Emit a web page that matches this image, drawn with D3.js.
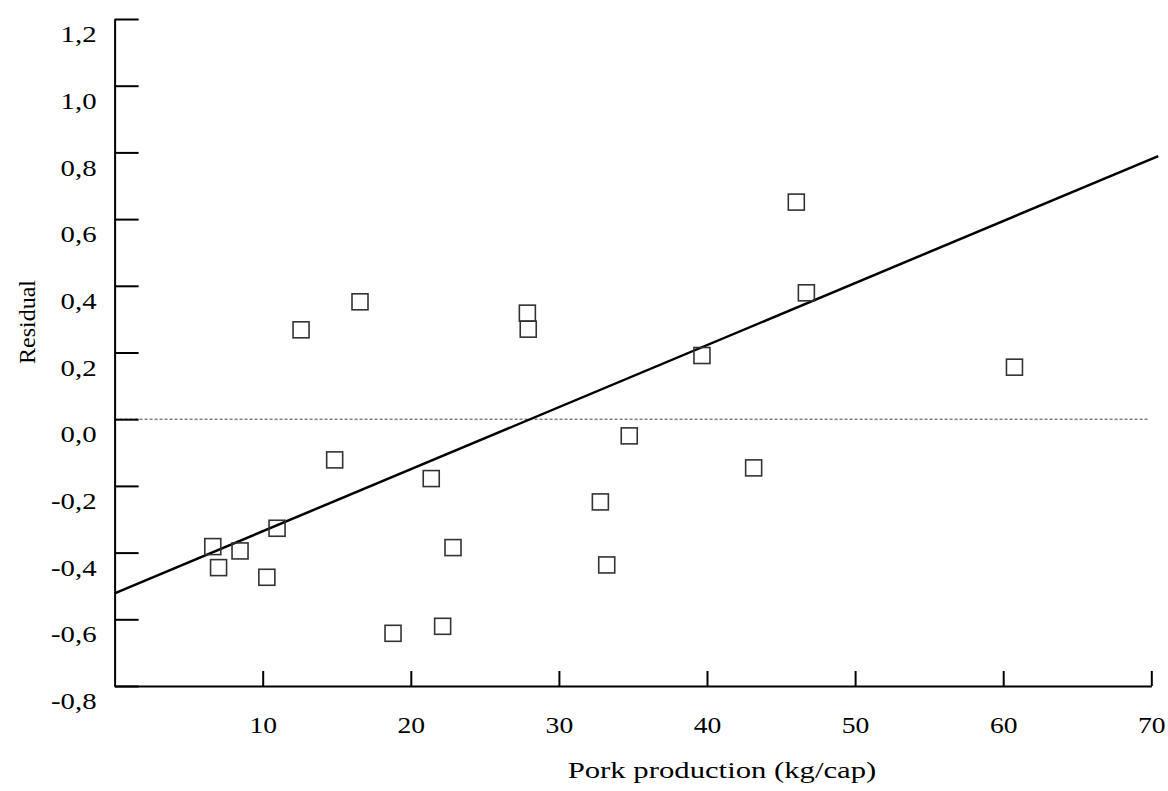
<!DOCTYPE html>
<html>
<head>
<meta charset="utf-8">
<script src="https://cdn.jsdelivr.net/npm/d3@7"></script>
<style>
  html, body { margin: 0; padding: 0; background: #fff; }
  svg { display: block; }
  text { font-family: "Liberation Serif", "Times New Roman", serif; fill: #000; }
</style>
</head>
<body>
<svg id="chart" width="1168" height="791"></svg>
<script>
// ---- data ----
const porkProduction = [6.63, 7.02, 8.47, 10.28, 10.97, 12.59, 14.86, 16.57, 18.80, 21.38, 22.15,
                        22.85, 27.87, 27.93, 32.80, 33.23, 34.75, 39.66, 43.15, 46.03, 46.71, 60.76];
const residuals     = [-0.382, -0.445, -0.395, -0.474, -0.327, 0.268, -0.122, 0.352, -0.642, -0.178, -0.621,
                       -0.385, 0.318, 0.270, -0.248, -0.437, -0.050, 0.191, -0.146, 0.651, 0.379, 0.156];
const fitLineX = [0, 70.47];
const fitLineY = [-0.522, 0.789];
const zeroLineX = [0, 69.8];
const xTicks = [10, 20, 30, 40, 50, 60, 70];
const yTicks = [-0.8, -0.6, -0.4, -0.2, 0.0, 0.2, 0.4, 0.6, 0.8, 1.0, 1.2];
const xTitle = "Pork production (kg/cap)";
const yTitle = "Residual";

const svg = d3.select("#chart");
const x = d3.scaleLinear().domain([0, 70]).range([114.6, 1151.3]);
const y = d3.scaleLinear().domain([-0.8, 1.2]).range([686, 19]);
const fmt = v => d3.format(".1f")(v).replace(".", ",").replace("\u2212", "-");

// zero reference line
svg.append("line")
  .attr("x1", x(zeroLineX[0])).attr("x2", x(zeroLineX[1]))
  .attr("y1", y(0)).attr("y2", y(0))
  .attr("stroke", "#444").attr("stroke-width", 1).attr("stroke-dasharray", "3,2");

// axes
const yAxis = svg.append("g").attr("transform", `translate(${x(0)},0)`)
  .call(d3.axisLeft(y).tickValues(yTicks).tickFormat(fmt).tickSizeInner(-24).tickSizeOuter(0).tickPadding(18));
const xAxis = svg.append("g").attr("transform", `translate(0,${y(-0.8)})`)
  .call(d3.axisBottom(x).tickValues(xTicks).tickFormat(d3.format("d")).tickSizeInner(-15).tickSizeOuter(0).tickPadding(30));

[yAxis, xAxis].forEach(g => {
  g.attr("font-family", null).attr("font-size", null);
  g.selectAll("path.domain").attr("stroke", "#000").attr("stroke-width", 2);
  g.selectAll(".tick line").attr("stroke", "#000").attr("stroke-width", 2);
  g.selectAll(".tick text").style("font-family", "'Liberation Serif', serif").style("font-size", "24px").attr("fill", "#000");
});
yAxis.selectAll(".tick text").attr("x", 0).attr("y", 15).attr("transform", "translate(-18,0) scale(1.2,1)");
xAxis.selectAll(".tick text").attr("transform", "scale(1.15,1)");

// regression line
svg.append("line")
  .attr("x1", x(fitLineX[0])).attr("y1", y(fitLineY[0]))
  .attr("x2", x(fitLineX[1])).attr("y2", y(fitLineY[1]))
  .attr("stroke", "#000").attr("stroke-width", 2.5);

// points (open squares)
const s = 16;
svg.append("g").selectAll("rect")
  .data(porkProduction.map((v, i) => [v, residuals[i]]))
  .join("rect")
  .attr("x", d => x(d[0]) - s / 2).attr("y", d => y(d[1]) - s / 2)
  .attr("width", s).attr("height", s)
  .attr("fill", "none").attr("stroke", "#333").attr("stroke-width", 1.6);

// titles
svg.append("text").attr("transform", "translate(722,778) scale(1.28,1)").attr("text-anchor", "middle")
  .style("font-size", "24px").text(xTitle);
svg.append("text").attr("transform", "translate(35,322) rotate(-90)").attr("text-anchor", "middle")
  .style("font-size", "24px").text(yTitle);
</script>
</body>
</html>
